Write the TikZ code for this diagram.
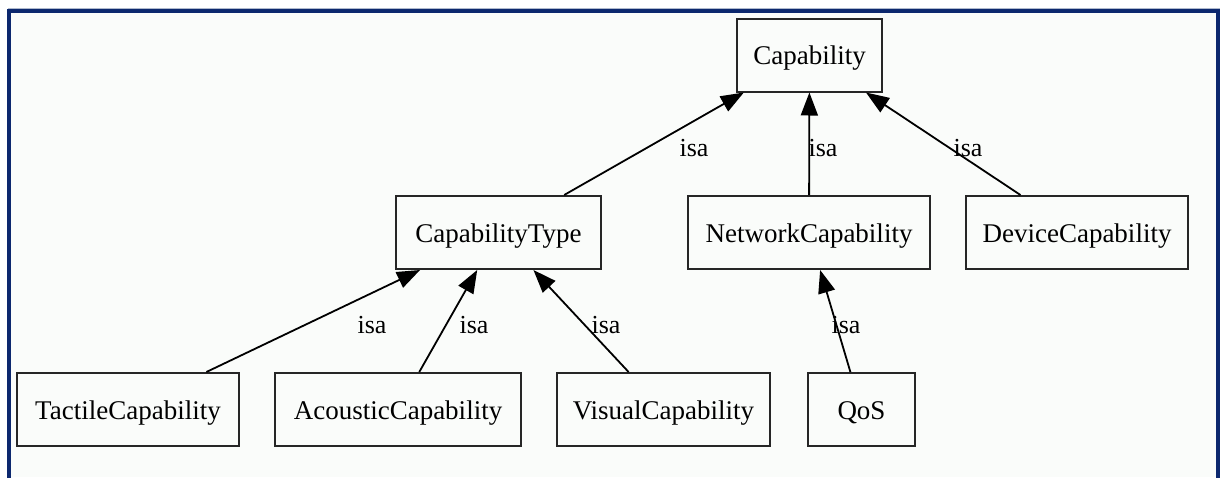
\documentclass[tikz,border=0pt]{standalone}
\usepackage{fontspec}
\setmainfont{Liberation Serif}
\usetikzlibrary{arrows.meta}
\definecolor{framenavy}{RGB}{12,40,110}
\definecolor{framelight}{RGB}{175,185,205}
\definecolor{innerbg}{RGB}{250,252,250}
\tikzset{
  cls/.style={draw=black!85, line width=2pt, rectangle, inner sep=0pt,
    minimum height=73pt, text height=19pt, text depth=0pt,
    font=\fontsize{27}{30}\selectfont},
  isa/.style={draw=black, line width=1.8pt, -{Triangle[length=23pt,width=17pt]}},
  lbl/.style={inner sep=0pt, font=\fontsize{26}{28}\selectfont},
}
\begin{document}
\begin{tikzpicture}[x=1pt,y=-1pt]
\useasboundingbox (0,0) rectangle (1226,477);
% background frame
\fill[white] (0,0) rectangle (1226,477);
\fill[innerbg] (9,11) rectangle (1218,477);
\draw[framelight, line width=1pt] (8,8.5) -- (1220,8.5);
\draw[framenavy, line width=3.2pt] (9,480) -- (9,11) -- (1218,11) -- (1218,480);
% nodes
\node[cls, minimum width=145pt] (cap) at (809.5,55) {Capability};
\node[cls, minimum width=205pt] (ctype) at (498.5,232.5) {CapabilityType};
\node[cls, minimum width=242pt] (net) at (809,232.5) {NetworkCapability};
\node[cls, minimum width=222pt] (dev) at (1077,232.5) {DeviceCapability};
\node[cls, minimum width=222pt] (tac) at (128,409.5) {TactileCapability};
\node[cls, minimum width=246pt] (aco) at (398,409.5) {AcousticCapability};
\node[cls, minimum width=213pt] (vis) at (663.5,409.5) {VisualCapability};
\node[cls, minimum width=107pt] (qos) at (861.5,409.5) {QoS};
% connectors
\draw[isa] (ctype) -- (cap);
\draw[isa] (net) -- (cap);
\draw[isa] (dev) -- (cap);
\draw[isa] (tac) -- (ctype);
\draw[isa] (aco) -- (ctype);
\draw[isa] (vis) -- (ctype);
\draw[isa] (qos) -- (net);
% labels
\node[lbl] (l1) at (694,148) {isa};
\node[lbl] (l2) at (823,148) {isa};
\node[lbl] (l3) at (968,148) {isa};
\node[lbl] (l4) at (372,325) {isa};
\node[lbl] (l5) at (474,325) {isa};
\node[lbl] (l6) at (606,325) {isa};
\node[lbl] (l7) at (846,325) {isa};
\end{tikzpicture}
\end{document}
